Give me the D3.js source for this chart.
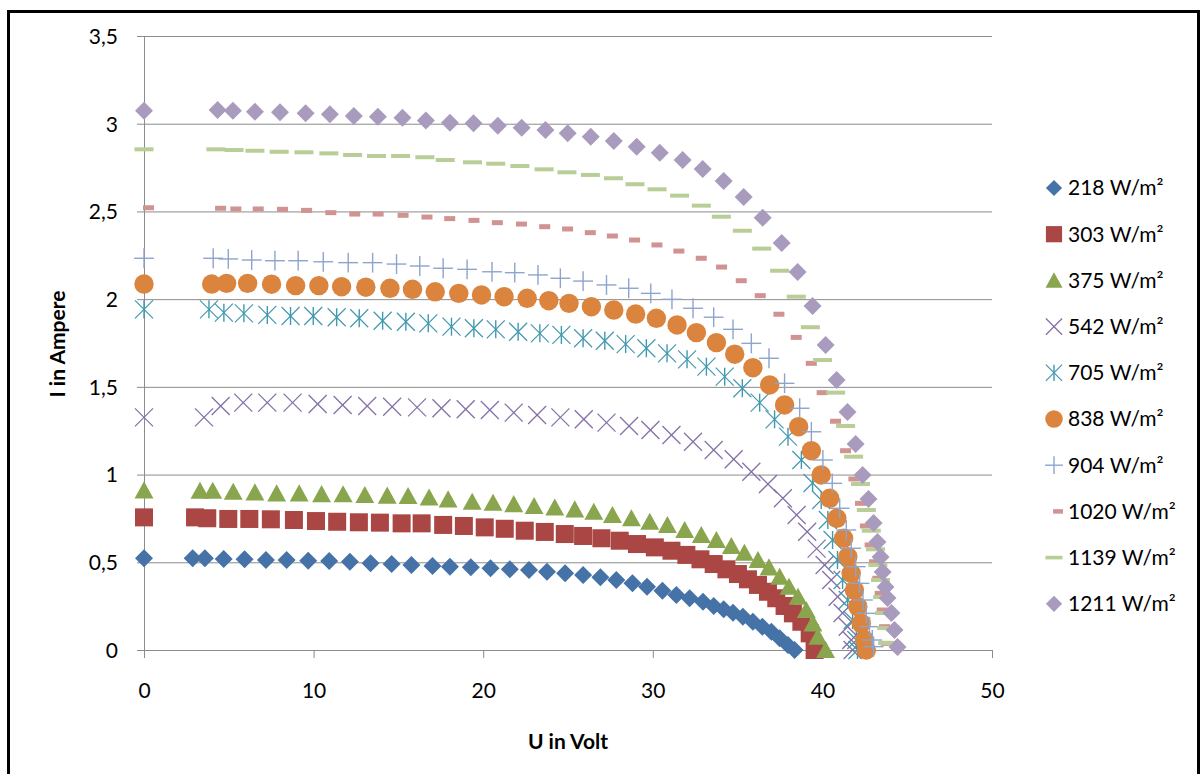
<!DOCTYPE html>
<html>
<head>
<meta charset="utf-8">
<script src="https://cdn.jsdelivr.net/npm/d3@7"></script>
<style>
  body { margin: 0; background: #fff; }
  text { font-family: Lato, "Open Sans", sans-serif; fill: #000; }
</style>
</head>
<body>
<div id="chart"></div>
<script>
// I-V curves, one array of [U (V), I (A)] per irradiance
const s218 = [[0,0.523],[2.87,0.523],[3.59,0.523],[4.70,0.519],[5.93,0.517],[7.19,0.513],[8.41,0.513],[9.68,0.509],[10.92,0.507],[12.14,0.503],[13.36,0.494],[14.60,0.490],[15.77,0.485],[17.01,0.479],[18.04,0.475],[19.27,0.471],[20.43,0.466],[21.57,0.460],[22.70,0.456],[23.76,0.446],[24.83,0.437],[25.89,0.428],[26.91,0.414],[27.85,0.399],[28.80,0.380],[29.66,0.361],[30.57,0.338],[31.39,0.314],[32.17,0.295],[32.96,0.275],[33.59,0.251],[34.18,0.232],[34.73,0.212],[35.31,0.190],[35.90,0.161],[36.46,0.133],[36.99,0.104],[37.48,0.067],[37.97,0.029],[38.36,0]];
const s303 = [[0,0.756],[3.01,0.756],[3.73,0.751],[4.97,0.747],[6.21,0.747],[7.48,0.745],[8.84,0.741],[10.14,0.735],[11.39,0.731],[12.67,0.728],[13.91,0.726],[15.19,0.722],[16.37,0.722],[17.64,0.713],[18.86,0.707],[20.09,0.699],[21.27,0.691],[22.45,0.680],[23.63,0.673],[24.81,0.661],[25.89,0.650],[26.97,0.637],[28.05,0.623],[29.07,0.604],[30.12,0.585],[31.10,0.566],[31.98,0.542],[32.81,0.517],[33.59,0.490],[34.34,0.460],[35.02,0.433],[35.61,0.403],[36.20,0.371],[36.79,0.332],[37.28,0.295],[37.77,0.251],[38.26,0.209],[38.76,0.161],[39.25,0.095],[39.54,0]];
const s375 = [[0,0.910],[3.30,0.908],[4.05,0.908],[5.26,0.902],[6.54,0.899],[7.82,0.893],[9.15,0.893],[10.47,0.889],[11.74,0.888],[13.02,0.884],[14.34,0.880],[15.57,0.878],[16.81,0.870],[17.93,0.859],[19.35,0.845],[20.58,0.840],[21.80,0.832],[23.00,0.821],[24.22,0.813],[25.40,0.802],[26.52,0.788],[27.62,0.770],[28.74,0.751],[29.82,0.731],[30.86,0.713],[31.88,0.684],[32.86,0.656],[33.75,0.627],[34.63,0.593],[35.40,0.555],[36.20,0.513],[36.85,0.471],[37.48,0.418],[38.03,0.361],[38.56,0.304],[39.05,0.228],[39.44,0.152],[39.73,0.076],[40.19,0]];
const s542 = [[0,1.326],[3.54,1.326],[4.52,1.391],[5.85,1.410],[7.27,1.410],[8.76,1.410],[10.24,1.402],[11.71,1.397],[13.16,1.391],[14.63,1.387],[16.10,1.383],[17.54,1.378],[18.97,1.372],[20.39,1.368],[21.80,1.353],[23.18,1.340],[24.55,1.326],[25.93,1.315],[27.27,1.296],[28.60,1.277],[29.86,1.254],[31.10,1.226],[32.37,1.187],[33.59,1.140],[34.77,1.087],[35.81,1.016],[36.79,0.946],[37.67,0.865],[38.48,0.770],[39.10,0.674],[39.66,0.578],[40.13,0.485],[40.52,0.399],[40.90,0.304],[41.19,0.211],[41.49,0.133],[41.70,0.057],[41.78,0]];
const s705 = [[0,1.942],[3.83,1.942],[4.71,1.923],[5.89,1.919],[7.27,1.910],[8.64,1.904],[9.98,1.904],[11.36,1.897],[12.69,1.891],[14.07,1.877],[15.44,1.871],[16.76,1.862],[18.13,1.843],[19.45,1.834],[20.74,1.828],[22.06,1.814],[23.34,1.805],[24.61,1.796],[25.89,1.777],[27.17,1.763],[28.40,1.744],[29.62,1.720],[30.84,1.691],[32.02,1.657],[33.16,1.615],[34.24,1.558],[35.28,1.492],[36.30,1.410],[37.18,1.315],[37.97,1.216],[38.76,1.083],[39.42,0.952],[39.93,0.855],[40.32,0.741],[40.60,0.627],[40.89,0.513],[41.19,0.399],[41.49,0.285],[41.78,0.171],[42.00,0.057],[42.07,0]];
const s838 = [[0,2.086],[3.99,2.086],[4.87,2.090],[6.11,2.090],[7.52,2.085],[8.94,2.077],[10.31,2.077],[11.65,2.071],[13.08,2.068],[14.50,2.062],[15.83,2.056],[17.17,2.042],[18.56,2.033],[19.90,2.024],[21.23,2.014],[22.59,2.005],[23.87,1.991],[25.06,1.976],[26.38,1.957],[27.70,1.938],[28.99,1.915],[30.21,1.891],[31.43,1.853],[32.57,1.809],[33.75,1.752],[34.83,1.686],[35.90,1.609],[36.89,1.511],[37.77,1.397],[38.60,1.273],[39.35,1.136],[39.93,0.998],[40.43,0.865],[40.85,0.751],[41.25,0.637],[41.50,0.532],[41.70,0.437],[41.89,0.342],[42.09,0.247],[42.29,0.152],[42.49,0.057],[42.59,0]];
const s904 = [[0,2.233],[4.08,2.233],[4.97,2.229],[6.35,2.223],[7.72,2.219],[9.09,2.219],[10.57,2.213],[12.04,2.208],[13.48,2.208],[14.89,2.200],[16.26,2.189],[17.64,2.176],[19.05,2.170],[20.52,2.156],[21.86,2.151],[23.23,2.138],[24.55,2.119],[25.89,2.103],[27.27,2.081],[28.58,2.062],[29.88,2.033],[31.13,1.999],[32.37,1.948],[33.59,1.897],[34.73,1.828],[35.81,1.748],[36.85,1.663],[37.77,1.520],[38.66,1.378],[39.35,1.244],[40.03,1.083],[40.58,0.950],[41.02,0.808],[41.41,0.684],[41.70,0.580],[41.96,0.475],[42.19,0.380],[42.39,0.285],[42.59,0.209],[42.78,0.133],[42.94,0.057],[43.02,0.019]];
const s1020 = [[0,2.521],[4.25,2.518],[5.15,2.514],[6.47,2.514],[7.90,2.512],[9.32,2.506],[10.75,2.493],[12.16,2.485],[13.54,2.485],[15.01,2.478],[16.42,2.468],[17.76,2.459],[19.19,2.449],[20.57,2.436],[21.99,2.428],[23.36,2.413],[24.71,2.400],[26.05,2.379],[27.35,2.360],[28.66,2.337],[29.98,2.309],[31.27,2.274],[32.59,2.233],[33.79,2.183],[34.95,2.105],[36.07,2.020],[37.17,1.914],[38.19,1.782],[39.08,1.634],[39.72,1.467],[40.51,1.304],[41.10,1.136],[41.59,0.975],[41.98,0.836],[42.27,0.707],[42.55,0.599],[42.81,0.503],[43.00,0.409],[43.14,0.323],[43.26,0.228],[43.40,0.133],[43.50,0.038]];
const s1139 = [[0,2.854],[4.24,2.854],[5.31,2.850],[6.54,2.846],[7.97,2.840],[9.43,2.837],[10.90,2.831],[12.30,2.822],[13.71,2.816],[15.13,2.816],[16.56,2.809],[17.76,2.793],[19.37,2.780],[20.74,2.772],[22.16,2.759],[23.59,2.740],[24.94,2.723],[26.32,2.708],[27.68,2.689],[28.95,2.655],[30.25,2.626],[31.58,2.590],[32.86,2.533],[34.04,2.470],[35.28,2.390],[36.42,2.288],[37.48,2.162],[38.46,2.014],[39.29,1.840],[40.01,1.653],[40.78,1.467],[41.37,1.277],[41.84,1.102],[42.25,0.946],[42.59,0.798],[42.88,0.680],[43.13,0.574],[43.27,0.485],[43.43,0.399],[43.55,0.302],[43.67,0.211],[43.79,0.125],[43.85,0.040]];
const s1211 = [[0,3.074],[4.34,3.078],[5.24,3.074],[6.54,3.068],[8.02,3.065],[9.53,3.059],[10.96,3.054],[12.37,3.044],[13.79,3.040],[15.24,3.034],[16.62,3.019],[18.04,3.006],[19.43,3.002],[20.86,2.989],[22.27,2.977],[23.67,2.964],[24.98,2.945],[26.34,2.926],[27.70,2.901],[29.05,2.869],[30.41,2.835],[31.76,2.793],[32.94,2.742],[34.18,2.674],[35.36,2.582],[36.48,2.464],[37.60,2.320],[38.54,2.155],[39.42,1.961],[40.19,1.739],[40.84,1.539],[41.48,1.357],[41.96,1.174],[42.37,0.998],[42.72,0.861],[43.02,0.724],[43.25,0.616],[43.43,0.530],[43.55,0.445],[43.72,0.359],[43.84,0.296],[44.07,0.211],[44.25,0.114],[44.43,0.017]];

const seriesNames = ['218 W/m²', '303 W/m²', '375 W/m²', '542 W/m²', '705 W/m²',
                     '838 W/m²', '904 W/m²', '1020 W/m²', '1139 W/m²', '1211 W/m²'];
const seriesData = [s218, s303, s375, s542, s705, s838, s904, s1020, s1139, s1211];

const xTicks = [0, 10, 20, 30, 40, 50];
const yTicks = [0, 0.5, 1, 1.5, 2, 2.5, 3, 3.5];
const yTickLabels = ['0', '0,5', '1', '1,5', '2', '2,5', '3', '3,5'];

// marker style per series (same order as seriesData)
const markers = ['diamond', 'square', 'triangle', 'cross', 'star', 'circle', 'plus', 'shortdash', 'dash', 'diamond'];
const colors = ['#4572A7', '#AA4643', '#89A54E', '#8570A6', '#4198AF',
                '#DB843D', '#8DA4CD', '#D19392', '#B9CD96', '#A99BBD'];

const width = 1202, height = 774;
const svg = d3.select('#chart').append('svg')
  .attr('width', width)
  .attr('height', height);

// outer frame
svg.append('rect')
  .attr('x', 8.5).attr('y', 11.5)
  .attr('width', 1190).attr('height', 800)
  .attr('fill', 'none').attr('stroke', '#000').attr('stroke-width', 3);

const x = d3.scaleLinear().domain([0, 50]).range([144, 992]);
const y = d3.scaleLinear().domain([0, 3.5]).range([650, 36]);
const gridColor = '#8c8c8c';

// gridlines
svg.append('g')
  .attr('transform', `translate(${x(0)},0)`)
  .call(d3.axisLeft(y).tickValues(yTicks).tickSize(-(x(50) - x(0))).tickFormat(''))
  .call(g => g.select('.domain').remove())
  .call(g => g.selectAll('line').attr('stroke', gridColor));

// y axis
svg.append('g')
  .attr('transform', `translate(${x(0)},0)`)
  .call(d3.axisLeft(y).tickValues(yTicks).tickSize(7).tickSizeOuter(0)
          .tickFormat((d, i) => yTickLabels[i]))
  .call(g => g.select('.domain').attr('stroke', gridColor))
  .call(g => g.selectAll('line').attr('stroke', gridColor))
  .call(g => g.selectAll('text')
    .attr('x', -26).attr('dy', '0.35em')
    .style('font-size', '21px').style('font-family', 'Lato, sans-serif').attr('fill', '#000'));

// x axis
svg.append('g')
  .attr('transform', `translate(0,${y(0)})`)
  .call(d3.axisBottom(x).tickValues(xTicks).tickSize(8).tickSizeOuter(0))
  .call(g => g.select('.domain').attr('stroke', gridColor))
  .call(g => g.selectAll('line').attr('stroke', gridColor))
  .call(g => g.selectAll('text')
    .attr('y', 41).attr('dy', '0.35em')
    .style('font-size', '21px').style('font-family', 'Lato, sans-serif').attr('fill', '#000'));

// axis titles
svg.append('text')
  .attr('transform', 'translate(58,344) rotate(-90)')
  .attr('text-anchor', 'middle').attr('dy', '0.35em')
  .style('font-size', '21px').style('font-weight', 'bold')
  .text('I in Ampere');

svg.append('text')
  .attr('x', 568).attr('y', 742).attr('dy', '0.35em')
  .attr('text-anchor', 'middle')
  .style('font-size', '21px').style('font-weight', 'bold')
  .text('U in Volt');

function drawMarker(g, type, color, k) {
  const s = 9 * k;
  const line = (x1, y1, x2, y2, w) => g.append('line')
    .attr('x1', x1).attr('y1', y1).attr('x2', x2).attr('y2', y2)
    .attr('stroke', color).attr('stroke-width', w);
  switch (type) {
    case 'diamond':
      g.append('path').attr('d', `M0,${-s}L${s},0L0,${s}L${-s},0Z`).attr('fill', color);
      break;
    case 'square':
      g.append('rect').attr('x', -s).attr('y', -s).attr('width', 2 * s).attr('height', 2 * s).attr('fill', color);
      break;
    case 'triangle':
      g.append('path').attr('d', `M0,${-s}L${s * 1.05},${s * 0.9}L${-s * 1.05},${s * 0.9}Z`).attr('fill', color);
      break;
    case 'circle':
      g.append('circle').attr('r', s * 1.08).attr('fill', color);
      break;
    case 'cross':
      line(-s, -s, s, s, 1.3); line(-s, s, s, -s, 1.3);
      break;
    case 'star':
      line(-s, -s, s, s, 1.2); line(-s, s, s, -s, 1.2); line(0, -s, 0, s, 1.4);
      break;
    case 'plus':
      line(-s * 1.1, 0, s * 1.1, 0, 1.4); line(0, -s * 1.1, 0, s * 1.1, 1.4);
      break;
    case 'shortdash':
      g.append('rect').attr('x', -1 * k).attr('y', -2.5 * k).attr('width', 11 * k).attr('height', 5 * k).attr('fill', color);
      break;
    case 'dash':
      g.append('rect').attr('x', -9.5 * k).attr('y', -2 * k).attr('width', 19 * k).attr('height', 4 * k).attr('fill', color);
      break;
  }
}

// series markers
seriesData.forEach((data, i) => {
  svg.append('g')
    .attr('class', 'series')
    .selectAll('g')
    .data(data)
    .enter()
    .append('g')
    .attr('transform', d => `translate(${x(d[0])},${y(d[1])})`)
    .each(function () { drawMarker(d3.select(this), markers[i], colors[i], 1); });
});

// legend
const legend = svg.append('g').attr('transform', 'translate(1054,188)');
seriesNames.forEach((name, i) => {
  const row = legend.append('g').attr('transform', `translate(0,${i * 46.2})`);
  drawMarker(row, markers[i], colors[i], 0.9);
  row.append('text')
    .attr('x', 14).attr('dy', '0.35em')
    .style('font-size', '21px')
    .text(name);
});
</script>
</body>
</html>
